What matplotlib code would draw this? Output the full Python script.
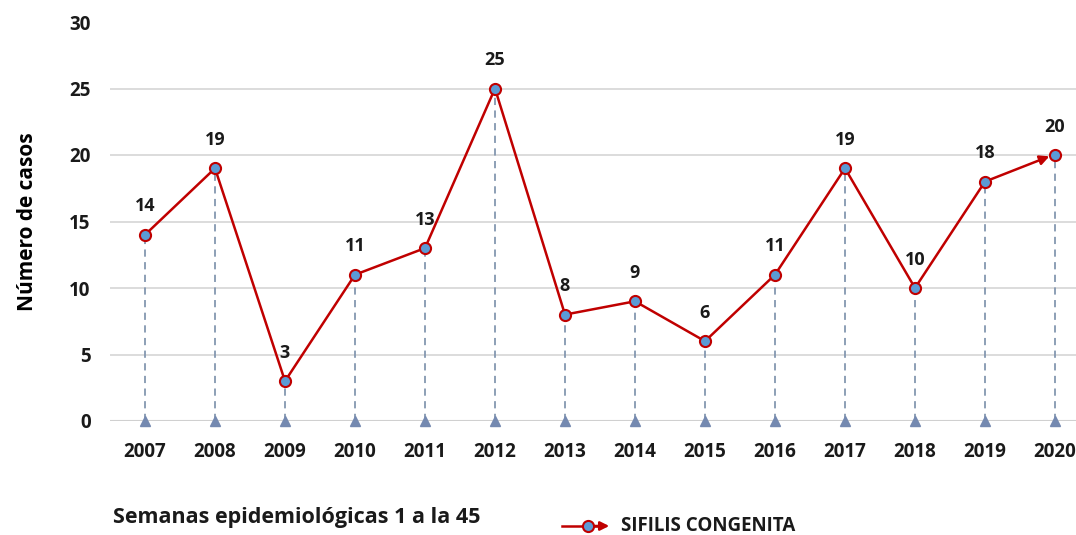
import matplotlib.pyplot as plt
from matplotlib.lines import Line2D
from matplotlib.patches import FancyArrowPatch

plt.rcParams['font.family'] = ['Open Sans', 'DejaVu Sans']

# datos
anios = ['2007', '2008', '2009', '2010', '2011', '2012', '2013',
         '2014', '2015', '2016', '2017', '2018', '2019', '2020']
casos = [14, 19, 3, 11, 13, 25, 8, 9, 6, 11, 19, 10, 18, 20]
y_ticks = [0, 5, 10, 15, 20, 25, 30]

rojo = '#c00000'
azul = '#5b9bd5'
gris_azul = '#8497b0'

fig = plt.figure(figsize=(10.76, 5.35), dpi=100)
ax = fig.add_axes([110 / 1076, 1 - 421 / 535, 980 / 1076, 399 / 535])

x = list(range(len(anios)))

# lineas de caida
for xi, v in zip(x, casos):
    ax.plot([xi, xi], [0, v], color=gris_azul, lw=1.3, ls=(0, (4, 3)), zorder=2)
ax.plot(x, [0] * len(x), ls='none', marker='^', ms=7, color='#7489b0', zorder=3, clip_on=False)

# serie
ax.plot(x[:-1], casos[:-1], color=rojo, lw=1.8, zorder=4)
ax.annotate('', xy=(x[-1] - 0.08, casos[-1] - 0.1), xytext=(x[-2], casos[-2]),
            arrowprops=dict(arrowstyle='-|>', color=rojo, lw=1.8, mutation_scale=14,
                            shrinkA=0, shrinkB=0), zorder=4)
ax.plot(x, casos, ls='none', marker='o', ms=8, mfc=azul, mec=rojo, mew=1.5, zorder=5)

for xi, v in zip(x, casos):
    ax.annotate(str(v), (xi, v), xytext=(0, 14), textcoords='offset points',
                ha='center', va='bottom', fontsize=13, fontweight='bold', color='#1a1a1a')

ax.set_xlim(-0.5, len(x) - 0.5)
ax.set_ylim(0, 30)
ax.set_yticks(y_ticks)
ax.set_xticks(x)
ax.set_xticklabels(anios)
ax.tick_params(length=0, labelsize=13.5, colors='#1a1a1a')
ax.tick_params(axis='y', pad=14)
ax.tick_params(axis='x', pad=15)
for lab in ax.get_xticklabels() + ax.get_yticklabels():
    lab.set_fontweight('bold')

for t in y_ticks[1:-1]:
    ax.axhline(t, color='#d9d9d9', lw=1.3, zorder=1)
ax.axhline(0, color='#d0d0d0', lw=1.5, zorder=1)
for s in ax.spines.values():
    s.set_visible(False)

ax.set_ylabel('Número de casos', fontsize=15, fontweight='bold', labelpad=22)

fig.text(113 / 1076, 1 - 517 / 535, 'Semanas epidemiológicas 1 a la 45', fontsize=15.5,
         fontweight='bold', va='center', color='#1a1a1a')

# leyenda
ly = 1 - 526 / 535
fig.add_artist(Line2D([562 / 1076, 600 / 1076], [ly, ly], color=rojo, lw=1.8))
fig.add_artist(FancyArrowPatch((590 / 1076, ly), (612 / 1076, ly), arrowstyle='-|>',
                               color=rojo, lw=1.8, mutation_scale=13,
                               transform=fig.transFigure))
fig.add_artist(Line2D([588 / 1076], [ly], ls='none', marker='o', ms=8, mfc=azul,
                      mec=rojo, mew=1.5))
fig.text(621 / 1076, ly, 'SIFILIS CONGENITA', fontsize=13.5, fontweight='bold',
         va='center', color='#1a1a1a')

fig.savefig('out.png', dpi=100)
